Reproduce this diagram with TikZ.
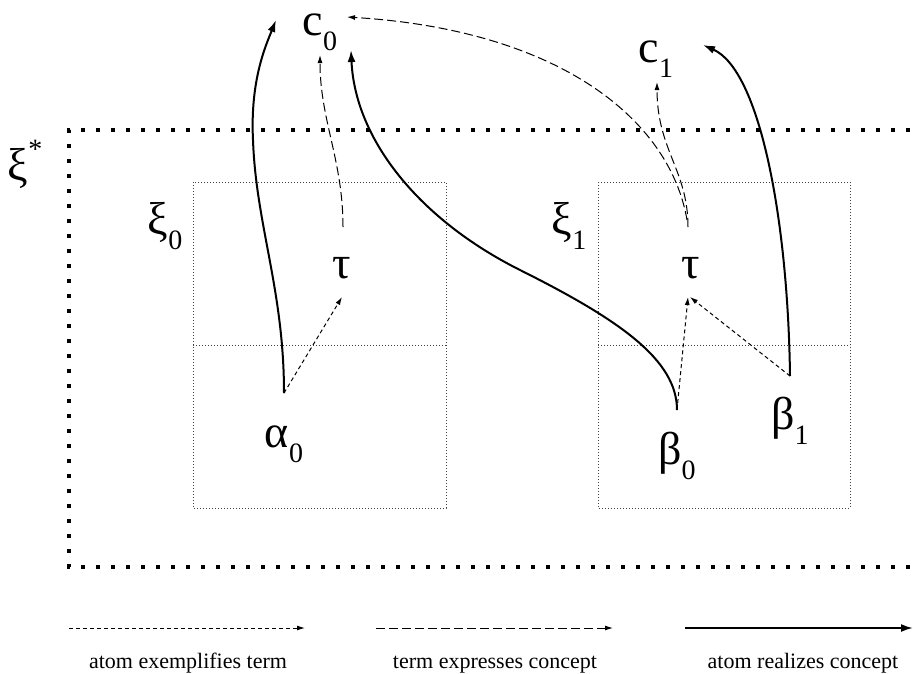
\documentclass[tikz,border=0pt]{standalone}
\usepackage{fontspec}
\setmainfont{Liberation Serif}
\usetikzlibrary{arrows.meta}

\newcommand{\symb}[2]{{\fontsize{46}{50}\selectfont #1}\raisebox{-15pt}{\fontsize{28}{30}\selectfont #2}}

\tikzset{
  exemplify/.style={line width=1pt, dash pattern=on 4pt off 3pt, -{Latex[length=8pt,width=5pt]}},
  expresses/.style={line width=1pt, dash pattern=on 9pt off 4pt, -{Latex[length=8pt,width=5pt]}},
  realizes/.style={line width=2pt, -{Latex[length=12pt,width=8pt]}},
  sym/.style={anchor=base, inner sep=0pt},
  legend/.style={anchor=base, inner sep=0pt, font=\fontsize{22}{24}\selectfont},
  subbox/.style={black!75, line width=1pt, dash pattern=on 1pt off 2pt},
  world/.style={line width=4pt, dash pattern=on 4pt off 11pt},
}

\begin{document}
\begin{tikzpicture}[x=1pt,y=-1pt]
\useasboundingbox (0,0) rectangle (913,673);
\clip (0,0) rectangle (913,673);

\draw[world] (940,130) -- (69,130) -- (69,567) -- (940,567);
\draw[subbox] (193,182) rectangle (446,508); \draw[subbox] (193,345) -- (446,345);
\draw[subbox] (598,182) rectangle (850,508); \draw[subbox] (598,345) -- (850,345);

\node[sym] (xis) at (25,180) {{\fontsize{46}{50}\selectfont ξ}\raisebox{22pt}{\fontsize{28}{30}\selectfont *}};
\node[sym] (xi0) at (165,234) {\symb{ξ}{0}};
\node[sym] (xi1) at (569,234) {\symb{ξ}{1}};

\node[sym] (c0) at (320,35) {\symb{c}{0}};
\node[sym] (c1) at (656,62) {\symb{c}{1}};
\node[sym] (tau0) at (342,278) {\symb{τ}{}};
\node[sym] (tau1) at (691,278) {\symb{τ}{}};
\node[sym] (a0) at (284,447) {\symb{α}{0}};
\node[sym] (b0) at (677,464) {\symb{β}{0}};
\node[sym] (b1) at (790,429) {\symb{β}{1}};

% first world
\draw[realizes] ([shift={(0,-54)}]a0.base) .. controls (284,290) and (256,225) .. (253,140)
  .. controls (250,80) and (266,45) .. ([shift={(-44,-15)}]c0.base);
\draw[exemplify] ([shift={(0,-54)}]a0.base) -- ([shift={(0,19)}]tau0.base);
\draw[expresses] ([shift={(1,-51)}]tau0.base) .. controls (343,160) and (320,120) .. ([shift={(0,20)}]c0.base);

% second world
\draw[realizes] ([shift={(0,-54)}]b0.base) .. controls (677,360) and (620,320) .. (520,270)
  .. controls (420,220) and (355,140) .. ([shift={(31,15)}]c0.base);
\draw[exemplify] ([shift={(0,-54)}]b0.base) -- ([shift={(-3,19)}]tau1.base);
\draw[exemplify] ([shift={(0,-53)}]b1.base) -- ([shift={(-1,19)}]tau1.base);
\draw[realizes] ([shift={(0,-53)}]b1.base) .. controls (788,220) and (760,70) .. ([shift={(47,-17)}]c1.base);
\draw[expresses] ([shift={(-3,-51)}]tau1.base) .. controls (688,170) and (657,150) .. ([shift={(1,20)}]c1.base);
\draw[expresses] ([shift={(-4,-58)}]tau1.base) .. controls (670,120) and (560,30) .. ([shift={(27,-18)}]c0.base);

% legend
\coordinate (e1) at (69,628);  \coordinate (e2) at (305,628);
\coordinate (x1) at (376,628); \coordinate (x2) at (613,628);
\coordinate (r1) at (685,628); \coordinate (r2) at (913,628);
\draw[exemplify] (e1) -- (e2);
\draw[expresses] (x1) -- (x2);
\draw[realizes] (r1) -- (r2);
\node[legend] (le) at (188,668) {atom exemplifies term};
\node[legend] (lx) at (495,668) {term expresses concept};
\node[legend] (lr) at (803,668) {atom realizes concept};

\end{tikzpicture}
\end{document}
